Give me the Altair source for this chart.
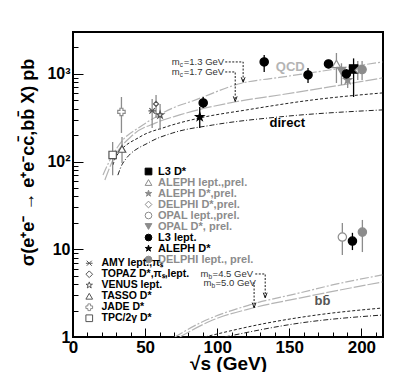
import altair as alt
import pandas as pd

FONT = "Liberation Sans"
BLACK = "#000000"
GRAY = "#8c8c8c"
LGRAY = "#b4b4b4"
DGRAY = "#555555"

# ---------------- theory curves: sqrt(s) [GeV], sigma [pb] ----------------
qcd13_x = [20.8, 25.6, 34.6, 46.4, 57.4, 69.2, 83.0, 117.6, 143.2, 177.9, 214.5]
qcd13_y = [70.4, 104, 176, 248, 323, 408, 491, 787, 910, 1107, 1367]
qcd17_x = [22.1, 27.7, 41.5, 57.4, 74.0, 112.1, 143.2, 177.9, 214.5]
qcd17_y = [61.7, 104, 201, 276, 340, 478, 574, 709, 898]
dir13_x = [27.7, 29.8, 46.4, 64.4, 87.9, 120.4, 166.1, 214.5]
dir13_y = [91.5, 113, 191, 248, 314, 388, 504, 606]
dir17_x = [31.1, 34.6, 53.3, 69.2, 96.9, 143.2, 214.5]
dir17_y = [70, 96, 167, 212, 261, 323, 388]
bb45_x = [70.6, 87.9, 122.5, 157.1, 179.9, 214.5]
bb45_y = [1.0, 1.44, 2.32, 3.18, 3.92, 5.1]
bb50_x = [74.0, 96.9, 124.6, 157.1, 214.5]
bb50_y = [1.0, 1.56, 2.14, 2.78, 4.24]
bbdir45_x = [91.3, 134.3, 168.9, 214.5]
bbdir45_y = [1.0, 1.44, 1.78, 2.14]
bbdir50_x = [105.2, 157.1, 214.5]
bbdir50_y = [1.0, 1.44, 1.78]

# ---------------- measurements ----------------
STAR = "M0,-1L0.2245,-0.309L0.951,-0.309L0.363,0.118L0.588,0.809L0,0.382L-0.588,0.809L-0.363,0.118L-0.951,-0.309L-0.2245,-0.309Z"
A_labels = ["L3 D*", "ALEPH lept.,prel.", "ALEPH D*,prel.", "DELPHI D*,prel.",
            "OPAL lept.,prel.", "OPAL D*, prel.", "L3 lept.", "ALEPH D*",
            "DELPHI lept., prel."]
A_shapes = ["square", "triangle-up", STAR, "diamond", "circle", "triangle-down",
            "circle", STAR, "circle"]
A_fills = [BLACK, "white", GRAY, "white", "white", GRAY, BLACK, BLACK, GRAY]
A_strokes = [BLACK, GRAY, GRAY, GRAY, GRAY, GRAY, BLACK, BLACK, GRAY]

B_labels = ["AMY lept.,π\u209b", "TOPAZ D*,π\u209b,lept.", "VENUS lept.", "TASSO D*",
            "JADE D*", "TPC/2\u03b3 D*"]
B_shapes = ["M-0.75,-0.75L0.75,0.75M-0.75,0.75L0.75,-0.75M-1,0L1,0",
            "diamond", STAR, "triangle-up", "cross", "square"]
B_fills = ["white"] * 6
B_strokes = [DGRAY, DGRAY, DGRAY, DGRAY, GRAY, DGRAY]

pt_exp = ["L3 D*", "ALEPH lept.,prel.", "ALEPH D*,prel.", "DELPHI D*,prel.",
          "OPAL lept.,prel.", "OPAL D*, prel.",
          "L3 lept.", "L3 lept.", "L3 lept.", "L3 lept.", "L3 lept.", "L3 lept.",
          "ALEPH D*", "DELPHI lept., prel.", "DELPHI lept., prel.",
          "AMY lept.,π\u209b", "TOPAZ D*,π\u209b,lept.", "VENUS lept.", "TASSO D*",
          "JADE D*", "TPC/2\u03b3 D*"]
pt_x = [194.6, 182.7, 190.5, 197.5, 186.8, 186.2,
        90.3, 132.6, 163.0, 177.2, 189.6, 193.8,
        87.9, 200.5, 200.7,
        54.9, 57.6, 60.4, 34.0, 33.6, 27.5]
pt_y = [1137, 1297, 851, 1100, 13.8, 1079,
        466, 1367, 971, 1297, 998, 12.4,
        323, 1120, 15.7,
        378, 454, 340, 139, 368, 119]
pt_lo = [545, 787, 690, 850, 8.6, 748,
         408, 1050, 787, 1200, 880, 9.8,
         241, 850, 9.3,
         242, 314, 229, 96, 212, 70]
pt_hi = [1500, 1730, 1050, 1400, 20.0, 1320,
         545, 1640, 1167, 1400, 1130, 15.4,
         419, 1400, 21.6,
         517, 575, 454, 191, 545, 167]

# ---------------- annotations ----------------
ann_text = ["QCD", "direct", "bb\u0304"]
ann_x = [150.7, 148.6, 173.0]
ann_y = [1199, 276, 2.57]
ann_color = [LGRAY, BLACK, DGRAY]

mass_text = ["=1.3 GeV", "=1.7 GeV", "=4.5 GeV", "=5.0 GeV"]
mass_sub = ["c", "c", "b", "b"]
mass_x = [68.5, 68.5, 88.5, 90.5]
mass_y = [1367, 1051, 5.23, 4.13]

arrow_id = ["a", "a", "a", "b", "b", "b", "c", "c", "c", "d", "d", "d"]
arrow_x = [105.6, 118.0, 118.0, 105.6, 112.5, 112.5, 126.4, 133.3, 133.3, 124.6, 125.6, 125.6]
arrow_y = [1367, 1367, 800, 1051, 1051, 485, 5.23, 5.23, 2.80, 4.13, 4.13, 2.16]
tip_x = [118.0, 112.5, 133.3, 125.6]
tip_y = [800, 485, 2.80, 2.16]

# ---------------- scales / axes ----------------
xs = alt.Scale(domain=[0, 215], nice=False, zero=False)
ys = alt.Scale(type="log", domain=[1, 3000], nice=False)

x_main = alt.Axis(values=[0, 50, 100, 150, 200], ticks=False, domain=False, grid=False,
                  labelFont=FONT, labelFontSize=17, labelFontWeight="bold",
                  labelColor=BLACK, labelPadding=2, labelFlush=False,
                  title="\u221as (GeV)", titleFont=FONT, titleFontSize=19,
                  titleFontWeight="bold", titleColor=BLACK, titleY=26,
                  titleBaseline="middle")
y_main = alt.Axis(values=[1, 10, 100, 1000], ticks=False, domain=False, grid=False,
                  labelExpr="datum.value == 1000 ? '10\u00b3' : datum.value == 100 ? '10\u00b2' : datum.value == 10 ? '10' : '1'",
                  labelFont=FONT, labelFontSize=16, labelFontWeight="bold",
                  labelColor=BLACK, labelPadding=3, labelFlush=False,
                  title="\u03c3(e\u207ae\u207b \u2192 e\u207ae\u207bcc\u0304,bb\u0304 X) pb",
                  titleFont=FONT, titleFontSize=18, titleFontWeight="bold",
                  titleColor=BLACK, titleX=-45, titleY=130, titleBaseline="middle")

x_tick_vals = list(range(0, 220, 10))
y_tick_vals = [m * 10 ** e for e in range(0, 4) for m in range(1, 10) if m * 10 ** e <= 3000]
x_ticks = alt.Axis(orient="top", offset=-305, values=x_tick_vals, labels=False,
                   domain=False, grid=False, title=None, tickColor=BLACK, tickWidth=1,
                   tickSize={"condition": {"test": "datum.value % 50 === 0", "value": 9},
                             "value": 5})
y_ticks = alt.Axis(orient="right", offset=-310, values=y_tick_vals, labels=False,
                   domain=False, grid=False, title=None, tickColor=BLACK, tickWidth=1,
                   tickSize={"condition": {"test": "indexof([1,10,100,1000], datum.value) >= 0",
                                           "value": 10}, "value": 5})


def X(field="x", axis=None):
    return alt.X(f"{field}:Q", scale=xs, axis=axis)


def Y(field="y", axis=None):
    return alt.Y(f"{field}:Q", scale=ys, axis=axis)


def line_layer(xv, yv, color, dash, xaxis=None, yaxis=None, width=1.0):
    df = pd.DataFrame({"x": xv, "y": yv, "o": list(range(len(xv)))})
    return alt.Chart(df).mark_line(color=color, strokeDash=dash, strokeWidth=width,
                                   interpolate="monotone", clip=True).encode(
        x=X(axis=xaxis), y=Y(axis=yaxis), order="o:Q")


layers = [
    line_layer(qcd13_x, qcd13_y, LGRAY, [9, 2, 2, 2], xaxis=x_main, yaxis=y_main, width=1.2),
    line_layer(qcd17_x, qcd17_y, LGRAY, [12, 2], xaxis=x_ticks, yaxis=y_ticks, width=1.2),
    line_layer(dir13_x, dir13_y, "#222222", [3, 2]),
    line_layer(dir17_x, dir17_y, "#222222", [5, 2, 1, 2]),
    line_layer(bb45_x, bb45_y, LGRAY, [9, 2, 2, 2], width=1.2),
    line_layer(bb50_x, bb50_y, LGRAY, [12, 2], width=1.2),
    line_layer(bbdir45_x, bbdir45_y, "#222222", [3, 2]),
    line_layer(bbdir50_x, bbdir50_y, "#222222", [5, 2, 1, 2]),
]

# dotted arrows
arr_df = pd.DataFrame({"x": arrow_x, "y": arrow_y, "id": arrow_id,
                       "o": list(range(len(arrow_x)))})
layers.append(alt.Chart(arr_df).mark_line(color=BLACK, strokeDash=[2, 1.5],
                                          strokeWidth=0.9).encode(
    x=X(), y=Y(), detail="id:N", order="o:Q"))
tip_df = pd.DataFrame({"x": tip_x, "y": tip_y})
layers.append(alt.Chart(tip_df).mark_point(shape="M-0.6,-1.6L0,0L0.6,-1.6", size=40,
                                           filled=False, color=BLACK, strokeWidth=0.9,
                                           opacity=1).encode(x=X(), y=Y()))

# mass labels
mass_df = pd.DataFrame({"x": mass_x, "y": mass_y, "t": mass_text, "s": mass_sub})
layers.append(alt.Chart(mass_df).mark_text(text="m", align="left", baseline="middle",
                                           font=FONT, fontSize=9.5, color="#333333").encode(
    x=X(), y=Y()))
layers.append(alt.Chart(mass_df).mark_text(align="left", baseline="middle", dx=8, dy=3,
                                           font=FONT, fontSize=6.5, color="#333333").encode(
    x=X(), y=Y(), text="s:N"))
layers.append(alt.Chart(mass_df).mark_text(align="left", baseline="middle", dx=12,
                                           font=FONT, fontSize=9.5, color="#333333").encode(
    x=X(), y=Y(), text="t:N"))

# annotations
ann_df = pd.DataFrame({"x": ann_x, "y": ann_y, "t": ann_text, "c": ann_color})
layers.append(alt.Chart(ann_df).mark_text(align="center", baseline="middle", font=FONT,
                                          fontSize=13, fontWeight="bold").encode(
    x=X(), y=Y(), text="t:N", color=alt.Color("c:N", scale=None)))

# measurements
grp = ["A" if e in A_labels else "B" for e in pt_exp]
ecol = []
sz = []
for e in pt_exp:
    if e in A_labels:
        i = A_labels.index(e)
        ecol.append(A_strokes[i])
        sz.append(30 if e == "DELPHI D*,prel." else 70)
    else:
        ecol.append(GRAY)
        sz.append(25 if e.startswith("TOPAZ") else 55)
pts = pd.DataFrame({"exp": pt_exp, "x": pt_x, "y": pt_y, "lo": pt_lo, "hi": pt_hi,
                    "g": grp, "ec": ecol, "sz": sz})

layers.append(alt.Chart(pts).mark_rule(strokeWidth=1.3).encode(
    x=X(), y=Y("lo"), y2="hi:Q", color=alt.Color("ec:N", scale=None)))


def legend(lx, ly, label_color, offset, fsize, rpad):
    return alt.Legend(orient="none", legendX=lx, legendY=ly, title=None,
                      labelFont=FONT, labelFontSize=fsize, labelFontWeight="bold",
                      labelColor=label_color, symbolSize=45, symbolStrokeWidth=1,
                      symbolOpacity=1, rowPadding=rpad, labelOffset=offset, padding=0)


legA = legend(70, 134, {"expr": "indexof(['L3 D*','L3 lept.','ALEPH D*'], datum.label) >= 0 ? '#000000' : '#8c8c8c'"}, 4, 11, -1)
legB = legend(11, 226, BLACK, 7, 10.5, -2)

ptsA = alt.Chart(pts).transform_filter("datum.g == 'A'").mark_point(
    filled=True, strokeWidth=1.2, opacity=1).encode(
    x=X(), y=Y(),
    shape=alt.Shape("exp:N", scale=alt.Scale(domain=A_labels, range=A_shapes), legend=legA),
    fill=alt.Fill("exp:N", scale=alt.Scale(domain=A_labels, range=A_fills), legend=legA),
    stroke=alt.Stroke("exp:N", scale=alt.Scale(domain=A_labels, range=A_strokes), legend=legA),
    size=alt.Size("sz:Q", scale=None))
ptsB = alt.Chart(pts).transform_filter("datum.g == 'B'").mark_point(
    filled=True, strokeWidth=1.2, opacity=1).encode(
    x=X(), y=Y(),
    shape=alt.Shape("exp:N", scale=alt.Scale(domain=B_labels, range=B_shapes), legend=legB),
    fill=alt.Fill("exp:N", scale=alt.Scale(domain=B_labels, range=B_fills), legend=legB),
    stroke=alt.Stroke("exp:N", scale=alt.Scale(domain=B_labels, range=B_strokes), legend=legB),
    size=alt.Size("sz:Q", scale=None))
layers += [ptsA, ptsB]

chart = alt.layer(*layers).resolve_scale(
    shape="independent", fill="independent", stroke="independent"
).resolve_axis(x="independent", y="independent").properties(
    width=310, height=305,
    padding={"left": 65, "top": 24, "right": 24, "bottom": 35},
    autosize=alt.AutoSizeParams(type="none"),
    background="white",
).configure_view(stroke=BLACK, strokeWidth=2)

chart.save("out.html", embed_options={"renderer": "svg", "actions": False})
